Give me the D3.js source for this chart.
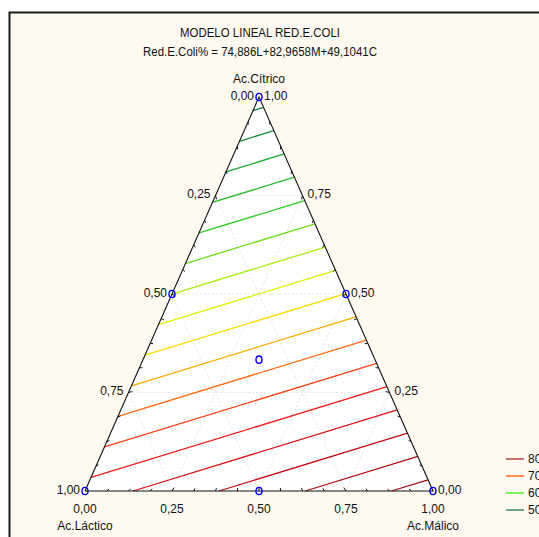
<!DOCTYPE html>
<html>
<head>
<meta charset="utf-8">
<script src="https://cdn.jsdelivr.net/npm/d3@7"></script>
<style>
  html, body { margin: 0; padding: 0; background: #fff; }
  svg { display: block; font-family: "Liberation Sans", Arial, sans-serif; }
</style>
</head>
<body>
<div id="chart"></div>
<script>
// model coefficients (Red.E.Coli% = aL + bM + cC)
const coefL = 74.886;
const coefM = 82.9658;
const coefC = 49.1041;

// contour levels
const levels = [50, 52, 54, 56, 58, 60, 62, 64, 66, 68, 70, 72, 74, 76, 78, 80, 82];
const colorStops = [50, 54, 58, 62, 65, 68, 70, 74, 78, 82];
const colorValues = ['#0a7a3a', '#1aa832', '#2ccc22', '#a8ee10', '#f4f400', '#ffaa00', '#ff6a10', '#ee1a1a', '#c40c14', '#9a0a10'];

const legendLevels = [80, 70, 60, 50];
const legendColors = ['#b04848', '#ff6a22', '#50f028', '#3e8a5e'];

const tickLabels = ['0,00', '0,25', '0,50', '0,75', '1,00'];
const tickValues = [0, 0.25, 0.5, 0.75, 1];

// design points (L, M, C)
const designPoints = [
    [1, 0, 0], [0, 1, 0], [0, 0, 1],
    [0.5, 0.5, 0], [0.5, 0, 0.5], [0, 0.5, 0.5],
    [1/3, 1/3, 1/3]
];

const W = 539, H = 537;
const svg = d3.select('#chart').append('svg')
    .attr('width', W)
    .attr('height', H);

// panel
svg.append('rect')
    .attr('x', 9.5).attr('y', 12.5)
    .attr('width', 700).attr('height', 700)
    .attr('fill', '#fefaf0')
    .attr('stroke', '#1c1c1c')
    .attr('stroke-width', 2);

// scales: bottom axis runs along M, vertical along C
const bx = d3.scaleLinear().domain([0, 1]).range([85, 433]);
const cy = d3.scaleLinear().domain([0, 1]).range([491, 97]);
const pt = (L, M, C) => [bx(M + C / 2), cy(C)];

const color = d3.scaleLinear().domain(colorStops).range(colorValues);

// titles
svg.append('text')
    .attr('x', 260).attr('y', 37)
    .attr('text-anchor', 'middle')
    .attr('textLength', 160).attr('lengthAdjust', 'spacingAndGlyphs')
    .style('font-size', '12.5px').attr('fill', '#111')
    .text('MODELO LINEAL RED.E.COLI');

svg.append('text')
    .attr('x', 260).attr('y', 56)
    .attr('text-anchor', 'middle')
    .attr('textLength', 234).attr('lengthAdjust', 'spacingAndGlyphs')
    .style('font-size', '12.5px').attr('fill', '#111')
    .text('Red.E.Coli% = 74,886L+82,9658M+49,1041C');

// triangle background
const verts = [pt(1, 0, 0), pt(0, 1, 0), pt(0, 0, 1)];
svg.append('path')
    .attr('d', d3.line()([...verts, verts[0]]))
    .attr('fill', '#fff');

// grid lines
const grid = svg.append('g')
    .attr('stroke', '#dedede')
    .attr('stroke-width', 0.8)
    .attr('stroke-dasharray', '2,2')
    .attr('fill', 'none');
[0.25, 0.5, 0.75].forEach(v => {
    grid.append('path').attr('d', d3.line()([pt(v, 1 - v, 0), pt(v, 0, 1 - v)]));
    grid.append('path').attr('d', d3.line()([pt(1 - v, v, 0), pt(0, v, 1 - v)]));
    grid.append('path').attr('d', d3.line()([pt(1 - v, 0, v), pt(0, 1 - v, v)]));
});

// contour lines
const vf = [coefL, coefM, coefC];
const vp = [[1, 0, 0], [0, 1, 0], [0, 0, 1]];
const edges = [[0, 1], [1, 2], [2, 0]];
levels.forEach(lv => {
    const pts = [];
    edges.forEach(([a, b]) => {
        const fa = vf[a], fb = vf[b];
        if ((lv - fa) * (lv - fb) <= 0 && fa !== fb) {
            const t = (lv - fa) / (fb - fa);
            pts.push(pt(...vp[a].map((d, i) => d + t * (vp[b][i] - d))));
        }
    });
    if (pts.length >= 2) {
        svg.append('path')
            .attr('d', d3.line()(pts.slice(0, 2)))
            .attr('stroke', color(lv))
            .attr('stroke-width', 1.3)
            .attr('fill', 'none');
    }
});

// triangle outline
svg.append('path')
    .attr('d', d3.line()([...verts, verts[0]]))
    .attr('fill', 'none')
    .attr('stroke', '#111')
    .attr('stroke-width', 1.1);

// ticks along edges (pointing inward)
const ticks = svg.append('g').attr('stroke', '#111').attr('stroke-width', 1);
const centroid = pt(1/3, 1/3, 1/3);
d3.range(1, 16).forEach(i => {
    const t = i / 16;
    const len = i % 4 === 0 ? 4 : 3;
    [pt(1 - t, t, 0), pt(1 - t, 0, t), pt(0, 1 - t, t)].forEach(p => {
        const dx = centroid[0] - p[0], dy = centroid[1] - p[1];
        const n = Math.hypot(dx, dy);
        ticks.append('line')
            .attr('x1', p[0]).attr('y1', p[1])
            .attr('x2', p[0] + dx / n * len).attr('y2', p[1] + dy / n * len);
    });
});

// tick labels
const lab = svg.append('g').style('font-size', '12px').attr('fill', '#111');
tickValues.forEach((v, i) => {
    // bottom axis: M
    lab.append('text')
        .attr('x', bx(v)).attr('y', 513)
        .attr('text-anchor', 'middle')
        .text(tickLabels[i]);
    // left edge: L from apex (0) to bottom-left (1)
    const pl = pt(v, 0, 1 - v);
    lab.append('text')
        .attr('x', pl[0] - 5).attr('y', pl[1] + 2.5)
        .attr('text-anchor', 'end')
        .text(tickLabels[i]);
    // right edge: C from bottom-right (0) to apex (1)
    const pr = pt(0, 1 - v, v);
    lab.append('text')
        .attr('x', pr[0] + 5).attr('y', pr[1] + 2.5)
        .attr('text-anchor', 'start')
        .text(tickLabels[i]);
});

// component names
const apex = pt(0, 0, 1);
lab.append('text').attr('x', apex[0]).attr('y', 83).attr('text-anchor', 'middle').text('Ac.Cítrico');
lab.append('text').attr('x', bx(0)).attr('y', 530).attr('text-anchor', 'middle').text('Ac.Láctico');
lab.append('text').attr('x', bx(1)).attr('y', 530).attr('text-anchor', 'middle').text('Ac.Málico');

// design points
svg.append('g').selectAll('ellipse')
    .data(designPoints)
    .join('ellipse')
    .attr('cx', d => pt(...d)[0])
    .attr('cy', d => pt(...d)[1])
    .attr('rx', 3)
    .attr('ry', 3.6)
    .attr('fill', 'none')
    .attr('stroke', '#0000ee')
    .attr('stroke-width', 1.4);

// legend (runs off the right edge, as in the original)
const legend = svg.append('g').attr('transform', 'translate(506,459)');
legendLevels.forEach((lv, i) => {
    legend.append('line')
        .attr('x1', 0).attr('x2', 18)
        .attr('y1', i * 17).attr('y2', i * 17)
        .attr('stroke', legendColors[i])
        .attr('stroke-width', 1.5);
    legend.append('text')
        .attr('x', 22).attr('y', i * 17 + 4)
        .style('font-size', '12px').attr('fill', '#111')
        .text(lv);
});
</script>
</body>
</html>
